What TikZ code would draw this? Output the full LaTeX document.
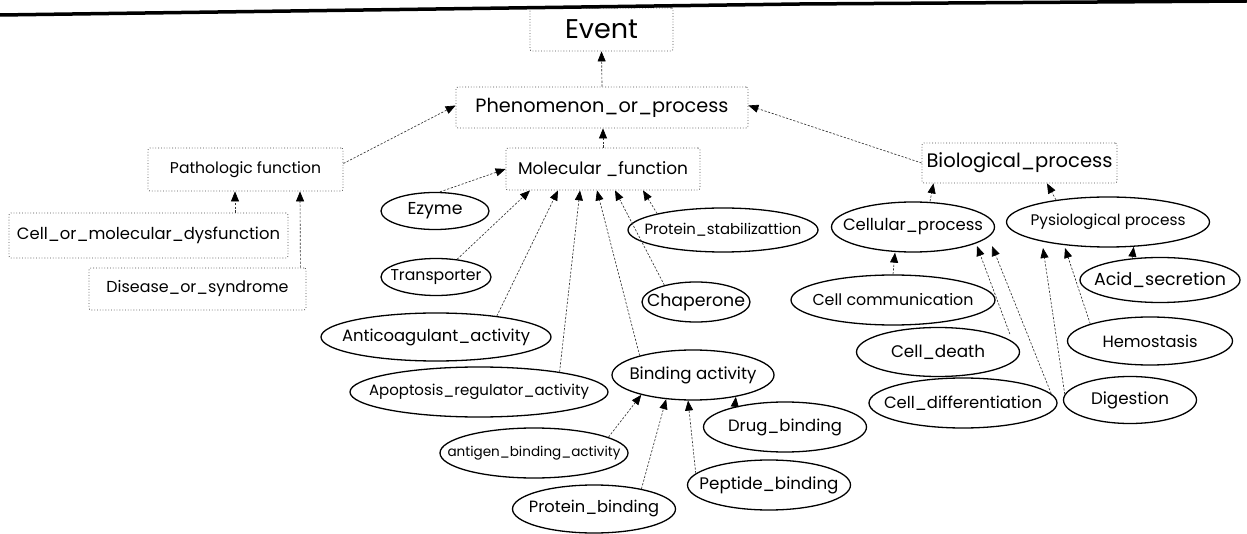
\documentclass[tikz,border=0pt]{standalone}
\usepackage{fontspec}
\setmainfont{Poppins}
\usetikzlibrary{arrows.meta,shapes.geometric,calc}
\newcommand{\fw}[2]{\makebox[0pt]{\resizebox{#1pt}{!}{#2}}}
\begin{document}
\begin{tikzpicture}[x=1pt,y=-1pt,
  boxn/.style={draw=black!70, dotted, line width=0.8pt, rounded corners=2pt, inner sep=0pt},
  elln/.style={ellipse, draw=black, line width=1.3pt, inner sep=0pt},
  conn/.style={draw=black!80, line width=0.65pt, dash pattern=on 2.2pt off 1.6pt, -{Triangle[length=10pt,width=8pt,fill=black,color=black]}},
]
\useasboundingbox (0,0) rectangle (1247,534);
% boxes
\node[boxn, minimum width=143pt, minimum height=43pt] (ev) at (601.5,29.5) {\fw{73}{Event}};
\node[boxn, minimum width=292pt, minimum height=41pt] (ph) at (602,107.5) {\fw{253}{Phenomenon\_or\_process}};
\node[boxn, minimum width=195pt, minimum height=43pt] (pf) at (245.5,169.5) {\fw{151}{Pathologic function}};
\node[boxn, minimum width=279pt, minimum height=45pt] (cmd) at (148.5,235.5) {\fw{263}{Cell\_or\_molecular\_dysfunction}};
\node[boxn, minimum width=217pt, minimum height=42pt] (ds) at (197.5,289) {\fw{182}{Disease\_or\_syndrome}};
\node[boxn, minimum width=194pt, minimum height=42pt] (mf) at (603,169) {\fw{170}{Molecular \_function}};
\node[boxn, minimum width=195pt, minimum height=40pt] (bp) at (1019.5,163) {\fw{186}{Biological\_process}};
% ellipses
\node[elln, minimum width=108pt, minimum height=37pt] (ez) at (435,211) {\fw{55}{Ezyme}};
\node[elln, minimum width=110pt, minimum height=37pt] (trp) at (436,277) {\fw{91}{Transporter}};
\node[elln, minimum width=230pt, minimum height=48pt] (anti) at (436,337) {\fw{188}{Anticoagulant\_activity}};
\node[elln, minimum width=258pt, minimum height=50pt] (apo) at (479,392) {\fw{220}{Apoptosis\_regulator\_activity}};
\node[elln, minimum width=162pt, minimum height=50pt] (bind) at (693,375) {\fw{127}{Binding activity}};
\node[elln, minimum width=108pt, minimum height=40pt] (chap) at (696,302) {\fw{98}{Chaperone}};
\node[elln, minimum width=190pt, minimum height=44pt] (pstab) at (723,230) {\fw{157}{Protein\_stabilizattion}};
\node[elln, minimum width=188pt, minimum height=50pt] (agb) at (534,453) {\fw{173}{antigen\_binding\_activity}};
\node[elln, minimum width=163pt, minimum height=48pt] (pb) at (594,509) {\fw{130}{Protein\_binding}};
\node[elln, minimum width=163pt, minimum height=50pt] (pep) at (769,485) {\fw{139}{Peptide\_binding}};
\node[elln, minimum width=163pt, minimum height=50pt] (drug) at (785,427) {\fw{114}{Drug\_binding}};
\node[elln, minimum width=163pt, minimum height=50pt] (cell) at (913,227) {\fw{140}{Cellular\_process}};
\node[elln, minimum width=203pt, minimum height=50pt] (phys) at (1108,222) {\fw{155}{Pysiological process}};
\node[elln, minimum width=160pt, minimum height=45pt] (acid) at (1160,280) {\fw{132}{Acid\_secretion}};
\node[elln, minimum width=204pt, minimum height=50pt] (ccom) at (893,300) {\fw{161}{Cell communication}};
\node[elln, minimum width=163pt, minimum height=49pt] (cdeath) at (938,352) {\fw{94}{Cell\_death}};
\node[elln, minimum width=188pt, minimum height=50pt] (cdiff) at (963,403) {\fw{158}{Cell\_differentiation}};
\node[elln, minimum width=165pt, minimum height=48pt] (hemo) at (1150,341) {\fw{95}{Hemostasis}};
\node[elln, minimum width=133pt, minimum height=47pt] (dig) at (1130,400) {\fw{78}{Digestion}};
% top rule
\draw[line width=3.5pt] (0,15) -- (800,4) -- (1247,1);
% connectors
\draw[conn] (ph.north) -- (ev.south);
\draw[conn] ([yshift=6pt]pf.east) -- ([yshift=2pt]ph.west);
\draw[conn] ([xshift=86.5pt]cmd.north) -- ([xshift=-10.5pt]pf.south);
\draw[conn] ([xshift=-6pt]ds.north east) -- ([xshift=54.5pt]pf.south);
\draw[conn] (mf.north) -- (mf.north |- ph.south);
\draw[conn] (bp.west) -- ([yshift=2pt]ph.east);
\draw[conn] ([xshift=5pt]ez.north) -- (mf.west);
\draw[conn] (trp.40) -- ([xshift=-73pt]mf.south);
\draw[conn] (anti.19) -- ([xshift=-45pt]mf.south);
\draw[conn] (apo.14) -- ([xshift=-23pt]mf.south);
\draw[conn] (bind.160) -- ([xshift=-6pt]mf.south);
\draw[conn] (chap.152) -- ([xshift=12pt]mf.south);
\draw[conn] (pstab.166) -- ([xshift=40pt]mf.south);
\draw[conn] (agb.12) -- (bind.201);
\draw[conn] (pb.23) -- (bind.222);
\draw[conn] (pep.171) -- (bind.259);
\draw[conn] (drug.158) -- (bind.333);
\draw[conn] ([xshift=17pt]cell.north) -- ([xshift=-86pt]bp.south);
\draw[conn] (phys.157) -- ([xshift=27.5pt]bp.south);
\draw[conn] (acid.142) -- (phys.316);
\draw[conn] (ccom.north) -- ([xshift=-18pt]cell.south);
\draw[conn, shorten <=8pt] (cdeath.8) -- ([xshift=64pt,yshift=-19pt]cell.center);
\draw[conn] (cdiff.6) -- ([xshift=79pt,yshift=-19pt]cell.center);
\draw[conn] (dig.175) -- ([xshift=-65pt,yshift=-26pt]phys.center);
\draw[conn] (hemo.164) -- ([xshift=-43pt,yshift=-26pt]phys.center);
\end{tikzpicture}
\end{document}
